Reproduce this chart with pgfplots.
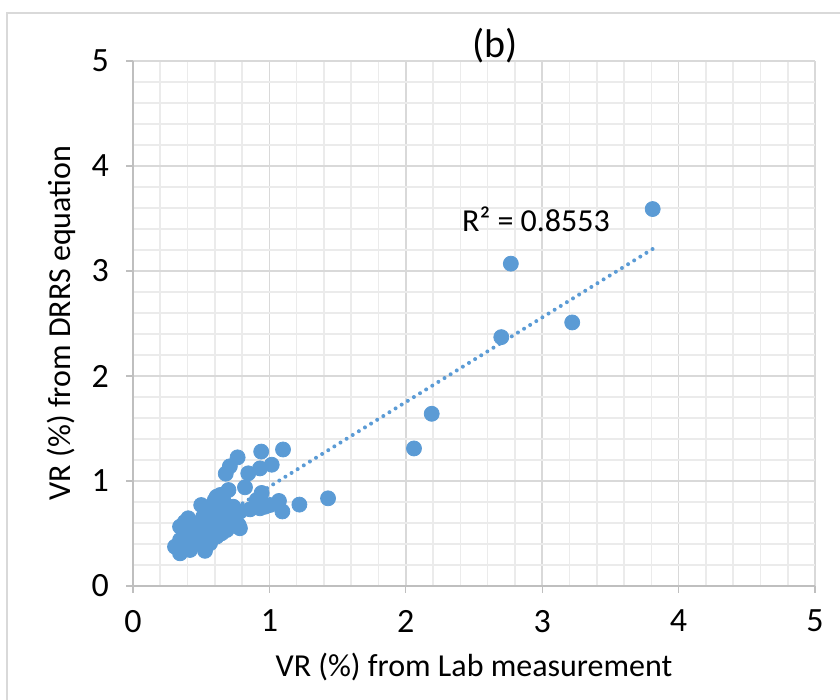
\documentclass[border=0pt]{standalone}
\usepackage{pgfplots}
\pgfplotsset{compat=1.18}
\usepackage{fontspec}
\setmainfont{Carlito}
\definecolor{exblue}{HTML}{5B9BD5}
\definecolor{majgrid}{HTML}{D9D9D9}
\definecolor{mingrid}{HTML}{EBEBEB}
\definecolor{axgray}{HTML}{BFBFBF}
\begin{document}
\begin{tikzpicture}[font=\fontsize{16}{19}\selectfont]
\useasboundingbox (0pt,0pt) rectangle (420pt,350pt);
\draw[color=majgrid, line width=0.8pt] (3.5pt,-10pt) -- (3.5pt,343.5pt) -- (440pt,343.5pt);
\begin{axis}[
  at={(66.5pt,57pt)}, anchor=south west,
  scale only axis, width=341pt, height=262.5pt,
  xmin=0, xmax=5, ymin=0, ymax=5,
  xtick={0,1,2,3,4,5}, ytick={0,1,2,3,4,5},
  minor tick num=4,
  minor tick length=0pt,
  major tick length=3.5pt,
  tick align=outside,
  tick style={color=axgray, line width=0.6pt},
  axis x line*=bottom, axis y line*=left,
  axis line style={color=axgray, line width=0.8pt, -},
  grid=both,
  major grid style={color=majgrid, line width=0.8pt},
  minor grid style={color=mingrid, line width=0.8pt},
  /pgf/number format/assume math mode=true,
  tick label style={font=\fontsize{17}{20}\selectfont},
  xticklabel style={yshift=-5pt},
  yticklabel style={xshift=-5pt},
  clip=false,
]
\addplot[only marks, mark=*, mark size=3.75pt, color=exblue, mark options={fill=exblue, draw=exblue}] coordinates {
(3.81,3.59) (2.77,3.07) (2.70,2.37) (3.22,2.51) (2.19,1.64) (2.06,1.31)
(1.43,0.835) (1.22,0.775) (1.10,1.30) (1.095,0.71) (1.07,0.81)
(0.94,1.28) (0.767,1.225) (0.71,1.14) (0.68,1.07) (1.017,1.155)
(0.931,1.12) (0.845,1.073) (0.821,0.94) (0.943,0.886) (0.70,0.914)
(0.64,0.867) (0.60,0.82) (0.50,0.771) (1.004,0.771) (0.968,0.755)
(0.931,0.74) (0.858,0.73) (0.784,0.708) (0.735,0.755) (0.784,0.55)
(0.775,0.58) (0.748,0.629) (0.38,0.61) (0.345,0.565) (0.44,0.597)
(0.405,0.645) (0.308,0.374) (0.345,0.311) (0.528,0.335) (0.418,0.343)
(0.467,0.438) (0.565,0.47) (0.65,0.502) (0.687,0.565) (0.588,0.597)
(0.515,0.66) (0.638,0.692) (0.687,0.74) (0.565,0.724) (0.442,0.502)
(0.393,0.438) (0.491,0.533) (0.54,0.565) (0.613,0.629) (0.711,0.629)
(0.345,0.438) (0.381,0.502) (0.418,0.407) (0.491,0.407) (0.565,0.407)
(0.613,0.47) (0.662,0.819) (0.907,0.819) (0.613,0.85) (0.662,0.692)
(0.687,0.533) (0.613,0.502) (0.369,0.407)
};
\addplot[color=exblue, line width=2pt, line cap=round, dash pattern=on 0pt off 3.6pt] coordinates {(0.31,0.39) (3.81,3.21)};
\end{axis}
\node at (247.75pt,327pt) {\fontsize{20}{24}\selectfont (b)};
\node at (268pt,240.5pt) {R² = 0.8553};
\node at (237pt,16.5pt) {VR (\%) from Lab measurement};
\node[rotate=90] at (30.5pt,188.5pt) {VR (\%) from DRRS equation};
\end{tikzpicture}
\end{document}
